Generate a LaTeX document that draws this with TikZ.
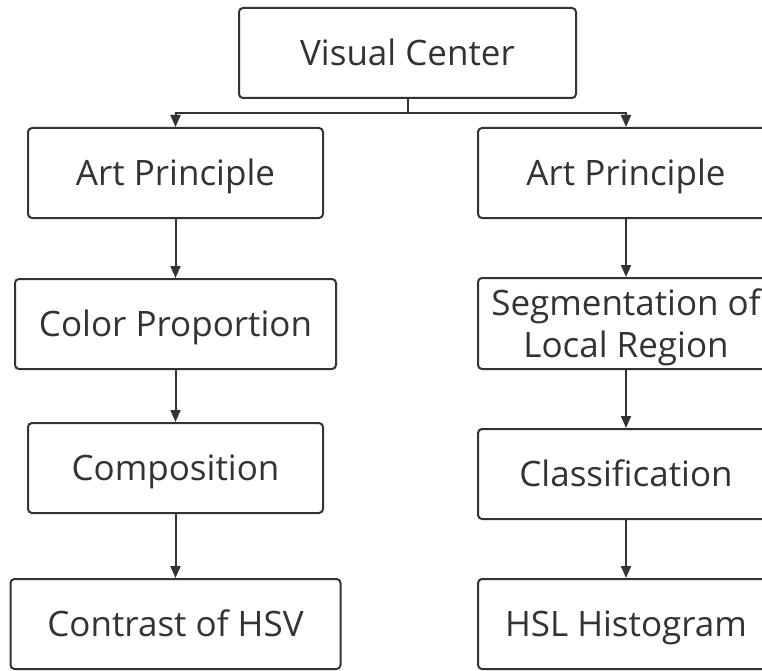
\documentclass[tikz,border=0pt]{standalone}
\usepackage{fontspec}
\setmainfont{Open Sans}
\usetikzlibrary{arrows.meta, positioning}
\definecolor{ink}{HTML}{333333}

\begin{document}
\begin{tikzpicture}[x=1pt, y=-1pt, >={Triangle[length=12pt, width=10pt]}]
  \tikzset{
    box/.style={draw=ink, line width=2pt, rounded corners=4pt, text=ink,
      minimum height=90pt, inner sep=0pt, align=center,
      text height=25pt, text depth=0pt,
      font=\fontsize{35}{42}\selectfont},
    link/.style={draw=ink, line width=2pt}
  }
  % page frame, right column runs past the edge
  \useasboundingbox (0,0) rectangle (762,671);
  \clip (0,0) rectangle (762,671);
  % Top
  \node[box, minimum width=337pt] (vc) at (407.5,53) {Visual Center};
  % Left branch
  \node[box, minimum width=295pt] (lap) at (175.5,173) {Art Principle};
  \node[box, minimum width=321pt] (cp) at (175.5,324) {Color Proportion};
  \node[box, minimum width=295pt] (comp) at (175.5,468) {Composition};
  \node[box, minimum width=330pt] (hsv) at (175.5,624) {Contrast of HSV};
  % Right branch
  \node[box, minimum width=296pt] (rap) at (626,173) {Art Principle};
  \node[box, minimum width=296pt, minimum height=91pt, text height=67pt] (seg)
    at (626,323.5) {Segmentation of\\Local Region};
  \node[box, minimum width=296pt] (cls) at (626,474) {Classification};
  \node[box, minimum width=296pt] (hsl) at (626,624) {HSL Histogram};
  % Connectors
  \coordinate (split) at (407.5,113);
  \draw[link] (vc.south) -- (split);
  \draw[link, ->] (split) -| (lap.north);
  \draw[link, ->] (split) -| (rap.north);
  \draw[link, ->] (lap) -- (cp);
  \draw[link, ->] (cp) -- (comp);
  \draw[link, ->] (comp) -- (hsv);
  \draw[link, ->] (rap) -- (seg);
  \draw[link, ->] (seg) -- (cls);
  \draw[link, ->] (cls) -- (hsl);
\end{tikzpicture}
\end{document}
